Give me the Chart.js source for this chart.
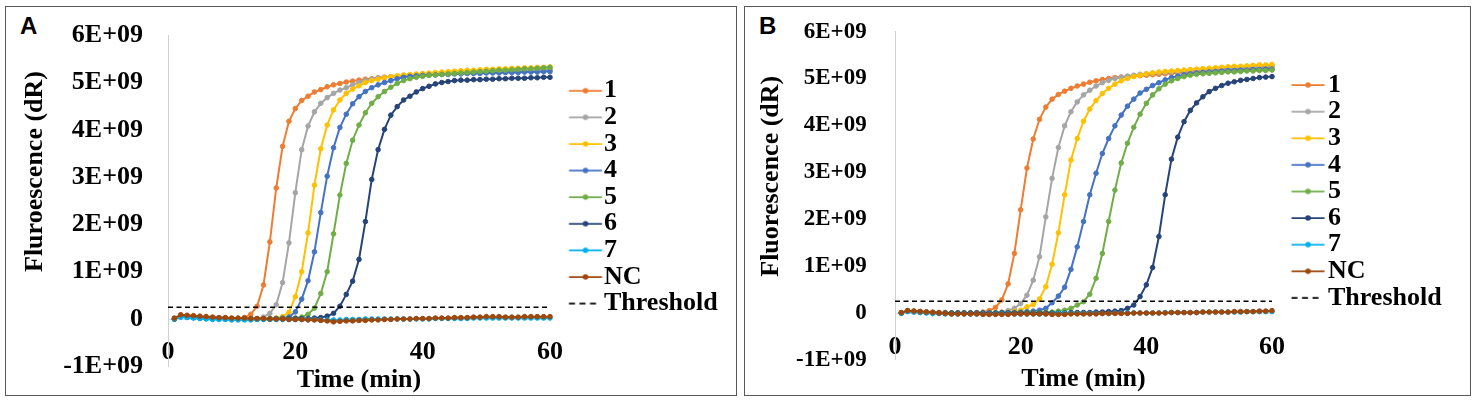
<!DOCTYPE html>
<html>
<head>
<meta charset="utf-8">
<script src="https://cdn.jsdelivr.net/npm/chart.js@4.4.1/dist/chart.umd.min.js"></script>
<style>
  body { margin: 0; background: #fff; width: 1476px; height: 402px; position: relative; overflow: hidden; }
  .frame { position: absolute; box-sizing: border-box; border: 1.5px solid #595959; }
  .tag { position: absolute; font: bold 24px 'Liberation Sans', Arial, sans-serif; line-height: 1; color: #000; }
  canvas { position: absolute; }
</style>
</head>
<body>
<div class="frame" style="left:4.5px;top:5.5px;width:732px;height:390px"></div>
<div class="frame" style="left:743.5px;top:5.5px;width:727px;height:390px"></div>
<div class="tag" style="left:20px;top:14px">A</div>
<div class="tag" style="left:759px;top:14px">B</div>
<canvas id="chartA" width="729" height="387" style="left:6px;top:7px"></canvas>
<canvas id="chartB" width="724" height="387" style="left:745px;top:7px"></canvas>
<script>
// time points (min)
const times = [1, 2, 3, 4, 5, 6, 7, 8, 9, 10, 11, 12, 13, 14, 15, 16, 17, 18, 19, 20,
  21, 22, 23, 24, 25, 26, 27, 28, 29, 30, 31, 32, 33, 34, 35, 36, 37, 38, 39, 40,
  41, 42, 43, 44, 45, 46, 47, 48, 49, 50, 51, 52, 53, 54, 55, 56, 57, 58, 59, 60];

const seriesNames = ['1', '2', '3', '4', '5', '6', '7', 'NC'];
const seriesColors = ['#ED7D31', '#A5A5A5', '#FFC000', '#4472C4', '#70AD47', '#264478', '#00B0F0', '#9E480E'];

// threshold, in units of 1E+09
const thresholdValue = 0.25;
const thresholdTimes = [0, 60];

// y tick values, in units of 1E+09
const yMin = -1, yMax = 6, yStep = 1;
const xMin = 0, xMax = 60, xStep = 20;

// --- panel A, fluorescence in units of 1E+09 ---
const a1 = [0.00, 0.07, 0.06, 0.05, 0.04, 0.03, 0.02, 0.02, 0.01, 0.01,
  0.01, 0.03, 0.10, 0.27, 0.72, 1.63, 2.77, 3.65, 4.18, 4.45,
  4.62, 4.71, 4.80, 4.85, 4.91, 4.95, 4.98, 5.01, 5.03, 5.05,
  5.07, 5.08, 5.10, 5.11, 5.12, 5.13, 5.14, 5.15, 5.16, 5.16,
  5.17, 5.18, 5.18, 5.19, 5.19, 5.20, 5.20, 5.21, 5.21, 5.22,
  5.22, 5.23, 5.23, 5.23, 5.24, 5.24, 5.25, 5.25, 5.25, 5.26];
const a2 = [0.00, 0.06, 0.05, 0.04, 0.03, 0.02, 0.02, 0.01, 0.01, 0.01,
  0.00, 0.00, 0.01, 0.01, 0.04, 0.12, 0.30, 0.77, 1.61, 2.67,
  3.58, 4.08, 4.38, 4.56, 4.68, 4.77, 4.84, 4.89, 4.95, 5.00,
  5.04, 5.07, 5.09, 5.11, 5.12, 5.13, 5.14, 5.15, 5.16, 5.17,
  5.18, 5.18, 5.19, 5.19, 5.20, 5.20, 5.21, 5.21, 5.22, 5.22,
  5.23, 5.23, 5.24, 5.24, 5.25, 5.25, 5.26, 5.26, 5.27, 5.27];
const a3 = [0.00, 0.05, 0.05, 0.04, 0.03, 0.02, 0.01, 0.01, 0.00, 0.00,
  0.00, 0.00, 0.00, 0.00, 0.01, 0.01, 0.02, 0.05, 0.14, 0.47,
  1.00, 1.82, 2.83, 3.60, 4.10, 4.42, 4.63, 4.77, 4.86, 4.93,
  5.00, 5.04, 5.07, 5.10, 5.12, 5.14, 5.16, 5.17, 5.18, 5.19,
  5.20, 5.21, 5.22, 5.23, 5.24, 5.25, 5.26, 5.26, 5.27, 5.28,
  5.28, 5.29, 5.29, 5.30, 5.30, 5.31, 5.31, 5.32, 5.32, 5.33];
const a4 = [0.00, 0.05, 0.04, 0.03, 0.03, 0.02, 0.01, 0.01, 0.00, 0.00,
  0.00, 0.00, 0.00, 0.00, 0.00, 0.01, 0.01, 0.02, 0.04, 0.15,
  0.42, 0.81, 1.42, 2.25, 3.02, 3.62, 4.05, 4.33, 4.55, 4.70,
  4.81, 4.89, 4.95, 5.00, 5.04, 5.08, 5.11, 5.13, 5.14, 5.15,
  5.16, 5.16, 5.17, 5.17, 5.18, 5.18, 5.19, 5.19, 5.19, 5.20,
  5.20, 5.20, 5.21, 5.21, 5.21, 5.22, 5.22, 5.22, 5.23, 5.23];
const a5 = [0.00, 0.05, 0.04, 0.03, 0.02, 0.02, 0.01, 0.01, 0.00, 0.00,
  0.00, 0.00, 0.00, 0.00, 0.00, 0.00, 0.01, 0.01, 0.01, 0.02,
  0.04, 0.10, 0.23, 0.54, 1.00, 1.80, 2.62, 3.29, 3.78, 4.10,
  4.36, 4.56, 4.70, 4.81, 4.90, 4.98, 5.04, 5.08, 5.11, 5.13,
  5.15, 5.16, 5.17, 5.18, 5.19, 5.20, 5.21, 5.22, 5.23, 5.24,
  5.25, 5.26, 5.26, 5.27, 5.28, 5.29, 5.29, 5.30, 5.31, 5.32];
const a6 = [0.00, 0.05, 0.04, 0.03, 0.02, 0.01, 0.01, 0.00, 0.00, 0.00,
  0.00, 0.00, 0.00, 0.00, 0.00, 0.00, 0.00, 0.00, 0.01, 0.01,
  0.01, 0.01, 0.02, 0.03, 0.06, 0.12, 0.27, 0.52, 0.80, 1.26,
  2.06, 2.95, 3.58, 4.01, 4.31, 4.49, 4.63, 4.71, 4.80, 4.87,
  4.92, 4.97, 5.00, 5.02, 5.04, 5.05, 5.05, 5.06, 5.06, 5.07,
  5.07, 5.08, 5.08, 5.09, 5.09, 5.09, 5.10, 5.10, 5.11, 5.11];
const a7 = [0.00, 0.04, 0.03, 0.02, 0.01, 0.00, -0.01, -0.01, -0.01, -0.02,
  -0.02, -0.02, -0.02, -0.01, -0.01, -0.01, -0.01, -0.01, -0.01, -0.01,
  -0.01, -0.01, -0.01, -0.02, -0.02, -0.02, -0.02, -0.01, -0.01, -0.01,
  0.00, 0.00, 0.00, 0.00, 0.00, 0.00, 0.00, 0.00, 0.00, 0.00,
  0.00, 0.01, 0.01, 0.01, 0.01, 0.01, 0.01, 0.02, 0.02, 0.02,
  0.02, 0.02, 0.02, 0.02, 0.02, 0.02, 0.02, 0.02, 0.02, 0.02];
const aNC = [0.02, 0.09, 0.08, 0.07, 0.06, 0.05, 0.04, 0.03, 0.03, 0.02,
  0.02, 0.02, 0.01, 0.01, 0.01, 0.00, 0.00, 0.00, -0.01, -0.01,
  -0.01, -0.02, -0.02, -0.03, -0.04, -0.06, -0.05, -0.04, -0.04, -0.03,
  -0.03, -0.02, -0.02, -0.01, -0.01, 0.00, 0.00, 0.00, 0.01, 0.01,
  0.01, 0.02, 0.02, 0.02, 0.03, 0.03, 0.03, 0.04, 0.04, 0.05,
  0.05, 0.05, 0.04, 0.04, 0.04, 0.05, 0.05, 0.05, 0.05, 0.05];

// --- panel B, fluorescence in units of 1E+09 ---
const b1 = [0.00, 0.05, 0.04, 0.03, 0.02, 0.02, 0.01, 0.01, 0.00, 0.00,
  0.00, 0.00, 0.01, 0.02, 0.05, 0.12, 0.28, 0.62, 1.27, 2.20,
  3.09, 3.71, 4.13, 4.39, 4.56, 4.66, 4.73, 4.79, 4.84, 4.88,
  4.92, 4.95, 4.98, 5.00, 5.02, 5.03, 5.04, 5.05, 5.06, 5.07,
  5.08, 5.09, 5.10, 5.11, 5.12, 5.13, 5.14, 5.15, 5.16, 5.17,
  5.18, 5.19, 5.20, 5.20, 5.21, 5.22, 5.23, 5.23, 5.24, 5.25];
const b2 = [0.00, 0.05, 0.04, 0.03, 0.02, 0.01, 0.01, 0.00, 0.00, 0.00,
  0.00, 0.00, 0.00, 0.00, 0.01, 0.01, 0.02, 0.05, 0.10, 0.20,
  0.38, 0.70, 1.20, 2.05, 2.87, 3.53, 3.99, 4.29, 4.50, 4.65,
  4.75, 4.84, 4.91, 4.96, 5.00, 5.03, 5.05, 5.07, 5.09, 5.10,
  5.11, 5.12, 5.13, 5.14, 5.15, 5.16, 5.17, 5.18, 5.19, 5.20,
  5.21, 5.21, 5.22, 5.23, 5.23, 5.24, 5.25, 5.25, 5.26, 5.27];
const b3 = [0.00, 0.04, 0.04, 0.03, 0.02, 0.01, 0.01, 0.00, 0.00, 0.00,
  0.00, 0.00, 0.00, 0.00, 0.00, 0.01, 0.01, 0.02, 0.03, 0.06,
  0.13, 0.18, 0.30, 0.56, 1.04, 1.71, 2.52, 3.26, 3.72, 4.09,
  4.35, 4.53, 4.68, 4.79, 4.88, 4.95, 5.00, 5.04, 5.07, 5.10,
  5.12, 5.14, 5.15, 5.16, 5.17, 5.18, 5.19, 5.20, 5.21, 5.22,
  5.23, 5.24, 5.25, 5.26, 5.26, 5.27, 5.28, 5.29, 5.29, 5.30];
const b4 = [0.00, 0.04, 0.03, 0.03, 0.02, 0.01, 0.00, 0.00, 0.00, 0.00,
  0.00, 0.00, 0.00, 0.00, 0.00, 0.00, 0.01, 0.01, 0.01, 0.02,
  0.03, 0.04, 0.06, 0.10, 0.22, 0.36, 0.55, 0.93, 1.41, 1.95,
  2.52, 2.98, 3.40, 3.72, 3.99, 4.22, 4.41, 4.56, 4.69, 4.77,
  4.85, 4.91, 4.97, 5.02, 5.05, 5.08, 5.10, 5.12, 5.13, 5.14,
  5.15, 5.16, 5.17, 5.17, 5.18, 5.18, 5.19, 5.19, 5.20, 5.20];
const b5 = [0.00, 0.04, 0.03, 0.02, 0.02, 0.01, 0.00, 0.00, 0.00, 0.00,
  0.00, 0.00, 0.00, 0.00, 0.00, 0.00, 0.00, 0.00, 0.00, 0.01,
  0.01, 0.01, 0.01, 0.02, 0.02, 0.04, 0.06, 0.10, 0.17, 0.24,
  0.40, 0.74, 1.27, 1.95, 2.62, 3.20, 3.62, 3.96, 4.24, 4.47,
  4.65, 4.78, 4.88, 4.95, 5.00, 5.04, 5.07, 5.09, 5.10, 5.11,
  5.12, 5.13, 5.14, 5.14, 5.15, 5.16, 5.16, 5.17, 5.17, 5.18];
const b6 = [0.00, 0.04, 0.03, 0.02, 0.01, 0.01, 0.00, 0.00, 0.00, 0.00,
  0.00, 0.00, 0.00, 0.00, 0.00, 0.00, 0.00, 0.00, 0.00, 0.00,
  0.00, 0.00, 0.00, 0.00, 0.00, 0.00, 0.00, 0.01, 0.01, 0.01,
  0.01, 0.02, 0.02, 0.03, 0.04, 0.05, 0.10, 0.17, 0.35, 0.60,
  0.97, 1.63, 2.52, 3.28, 3.75, 4.08, 4.32, 4.48, 4.61, 4.72,
  4.79, 4.85, 4.90, 4.93, 4.96, 4.98, 5.00, 5.02, 5.03, 5.04];
const b7 = [0.00, 0.03, 0.02, 0.01, 0.00, -0.01, -0.01, -0.02, -0.02, -0.02,
  -0.02, -0.02, -0.02, -0.02, -0.02, -0.02, -0.02, -0.02, -0.02, -0.02,
  -0.02, -0.02, -0.02, -0.02, -0.02, -0.01, -0.01, -0.01, -0.01, -0.01,
  -0.01, -0.01, -0.01, -0.01, 0.00, 0.00, 0.00, 0.00, 0.00, 0.00,
  0.00, 0.00, 0.01, 0.01, 0.01, 0.01, 0.01, 0.01, 0.02, 0.02,
  0.02, 0.02, 0.02, 0.02, 0.02, 0.03, 0.03, 0.03, 0.03, 0.03];
const bNC = [0.01, 0.05, 0.04, 0.03, 0.02, 0.01, 0.00, -0.01, -0.02, -0.02,
  -0.02, -0.02, -0.02, -0.03, -0.03, -0.03, -0.03, -0.03, -0.02, -0.02,
  -0.02, -0.02, -0.02, -0.02, -0.03, -0.03, -0.03, -0.02, -0.02, -0.02,
  -0.02, -0.02, -0.01, -0.01, -0.01, -0.01, -0.01, 0.00, 0.00, 0.00,
  0.00, 0.00, 0.00, 0.01, 0.01, 0.01, 0.01, 0.01, 0.02, 0.02,
  0.02, 0.02, 0.02, 0.03, 0.03, 0.03, 0.03, 0.04, 0.04, 0.05];

const serif = "'Liberation Serif', 'Times New Roman', serif";

// legend sample: short line with a marker (or dashes), drawn off-centre in its image
function legendSample(color, dashed, offset) {
  const c = document.createElement('canvas');
  c.width = Math.round(2 * (offset + 17) + 2);
  c.height = 8;
  const g = c.getContext('2d');
  const x0 = c.width / 2 + offset - 16.5;
  g.strokeStyle = color;
  g.lineWidth = 1.75;
  g.beginPath();
  if (dashed) {
    g.setLineDash([6, 4.5]);
    g.moveTo(x0, 4); g.lineTo(x0 + 27, 4);
    g.stroke();
  } else {
    g.moveTo(x0, 4); g.lineTo(x0 + 33, 4);
    g.stroke();
    g.fillStyle = color;
    g.beginPath();
    g.arc(x0 + 16.5, 4, 2.8, 0, Math.PI * 2);
    g.fill();
  }
  return c;
}

function buildChart(id, values, yTitle, geo) {
  const datasets = values.map((vals, i) => ({
    label: seriesNames[i],
    data: times.map((t, k) => ({ x: t, y: vals[k] })),
    borderColor: seriesColors[i],
    backgroundColor: seriesColors[i],
    pointBackgroundColor: seriesColors[i],
    pointBorderColor: seriesColors[i],
    borderWidth: 2,
    pointRadius: 2.3,
    pointBorderWidth: 1,
    tension: 0,
    clip: false,
    order: values.length + 1 - i
  }));
  datasets.push({
    label: 'Threshold',
    data: thresholdTimes.map(t => ({ x: t, y: thresholdValue })),
    borderColor: '#000',
    backgroundColor: '#000',
    borderWidth: 1.5,
    borderDash: [5, 3.5],
    pointRadius: 0,
    clip: false,
    order: 0
  });

  // keep the legend a fixed width so the plot area lands where the original has it
  const fixLegend = {
    id: 'fixLegend',
    afterInit(chart) {
      const fit = chart.legend.fit;
      chart.legend.fit = function () {
        fit.call(this);
        this.width = geo.legendWidth;
      };
    }
  };

  return new Chart(document.getElementById(id), {
    type: 'line',
    data: { datasets },
    plugins: [fixLegend],
    options: {
      responsive: false,
      animation: false,
      events: [],
      layout: { padding: { left: 6, top: geo.top, right: 0, bottom: geo.bottom } },
      scales: {
        x: {
          type: 'linear',
          position: { y: 0 },
          min: xMin, max: xMax,
          grid: { display: false, drawTicks: false },
          border: { display: true, color: '#d9d9d9', width: 1 },
          ticks: {
            stepSize: xStep,
            padding: geo.xTickPad,
            color: '#000',
            font: { family: serif, weight: 'bold', size: 26, lineHeight: 1 }
          },
          title: {
            display: true,
            text: 'Time (min)',
            color: '#000',
            padding: { top: geo.xTitlePad, bottom: 0 },
            font: { family: serif, weight: 'bold', size: 26, lineHeight: 1 }
          }
        },
        y: {
          min: yMin, max: yMax,
          grid: { display: false, drawTicks: false },
          border: { display: true, color: '#d0d0d0', width: 1 },
          ticks: {
            stepSize: yStep,
            padding: geo.yTickPad,
            color: '#000',
            font: { family: serif, weight: 'bold', size: geo.yTickSize },
            callback: v => (v === 0 ? '0' : v + 'E+09')
          },
          title: {
            display: true,
            text: '\u00a0'.repeat(geo.titleShift) + yTitle,
            color: '#000',
            padding: { top: geo.yTitlePad, bottom: 0 },
            font: { family: serif, weight: 'bold', size: 26, lineHeight: 1 }
          },
          afterFit: s => {
            s.width = geo.yWidth;
            s.paddingTop = 0;
            s.paddingBottom = 0;
          }
        }
      },
      plugins: {
        tooltip: { enabled: false },
        legend: {
          position: 'right',
          align: 'start',
          title: {
            display: true,
            text: ' ',
            padding: { top: geo.legendTop, bottom: 0 },
            font: { size: 10, lineHeight: 1 }
          },
          labels: {
            usePointStyle: true,
            pointStyleWidth: geo.boxWidth,
            padding: 0.6,
            color: '#000',
            font: { family: serif, weight: 'bold', size: 26 },
            generateLabels: chart => chart.data.datasets.map((ds, i) => ({
              text: ds.label,
              datasetIndex: i,
              hidden: false,
              fontColor: '#000',
              fillStyle: ds.borderColor,
              strokeStyle: ds.borderColor,
              lineWidth: 0,
              pointStyle: legendSample(ds.borderColor, ds.label === 'Threshold', geo.sampleOffset)
            }))
          }
        }
      }
    }
  });
}

buildChart('chartA', [a1, a2, a3, a4, a5, a6, a7, aNC], 'Fluroescence (dR)', {
  top: 28.2, bottom: 27.7, yWidth: 156, legendWidth: 185,
  yTickPad: 25, yTickSize: 26, yTitlePad: 10.4, titleShift: 9,
  xTickPad: 20, xTitlePad: -18,
  legendTop: 31.9, boxWidth: 40.4, sampleOffset: 14.7
});

buildChart('chartB', [b1, b2, b3, b4, b5, b6, b7, bNC], 'Fluorescence (dR)', {
  top: 24.6, bottom: 34.1, yWidth: 144, legendWidth: 197,
  yTickPad: 28.3, yTickSize: 23, yTitlePad: 7.7, titleShift: 6,
  xTickPad: 21, xTitlePad: -15,
  legendTop: 29.8, boxWidth: 42.4, sampleOffset: 14.2
});
</script>
</body>
</html>
